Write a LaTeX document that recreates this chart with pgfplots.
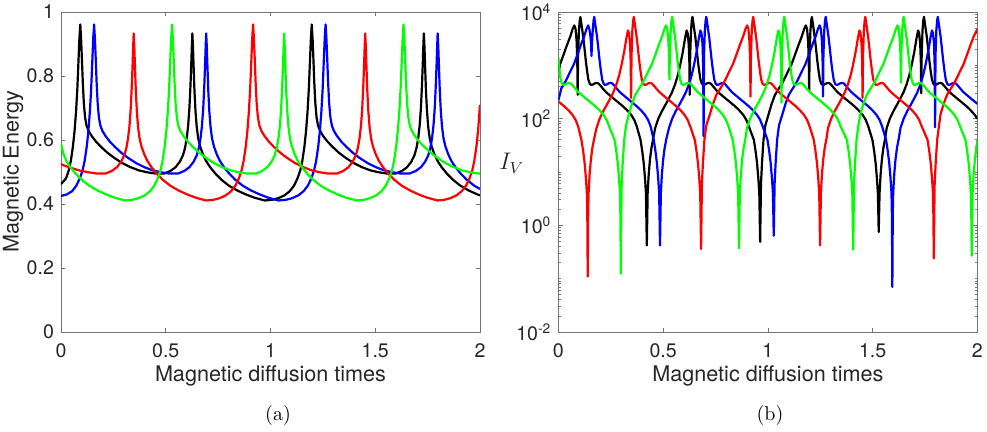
\documentclass[border=0pt]{standalone}
\usepackage{fontspec}
\usepackage{pgfplots}
\pgfplotsset{compat=1.18}
\newfontfamily\hv{TeX Gyre Heros}

\pgfplotsset{
  mlab/.style={
    scale only axis, width=209.5pt, height=160pt,
    xmin=0, xmax=2, xtick={0,0.5,1,1.5,2},
    tick align=inside, major tick length=2.2pt, minor tick length=1.2pt,
    axis line style={black!55},
    every tick/.style={black!55, line width=0.4pt},
    /pgf/number format/assume math mode=true,
    tick label style={font=\hv\fontsize{9.8}{11}\selectfont, text=black!85},
    xticklabel style={yshift=-2.2pt},
    label style={font=\hv\fontsize{10.8}{13}\selectfont, text=black!85},
    xlabel={Magnetic diffusion times},
    xlabel style={at={(axis description cs:0.5,-0.1375)}, anchor=center},
    every axis plot/.append style={line width=1.1pt, line join=round},
  }
}

\begin{document}
\begin{tikzpicture}
\useasboundingbox (0,0) rectangle (493.5pt,216pt);

% (a) magnetic energy
\begin{axis}[mlab, at={(30.5pt,50pt)}, anchor=south west,
  ymin=0, ymax=1, ytick={0,0.2,0.4,0.6,0.8,1},
  ylabel={Magnetic Energy},
  ylabel style={at={(axis description cs:-0.1146,0.501)}, anchor=center, rotate=0}]
\addplot[black] coordinates {(0,0.462) (0.024,0.480) (0.037,0.505) (0.047,0.535) (0.057,0.580) (0.065,0.630) (0.072,0.690) (0.078,0.760) (0.083,0.840) (0.088,0.920) (0.092,0.961) (0.096,0.915) (0.100,0.850) (0.104,0.780) (0.109,0.715) (0.115,0.670) (0.122,0.645) (0.132,0.628) (0.147,0.612) (0.167,0.595) (0.192,0.578) (0.222,0.560) (0.252,0.545) (0.292,0.528) (0.332,0.515) (0.372,0.505) (0.412,0.499) (0.452,0.495) (0.492,0.495) (0.522,0.503) (0.547,0.515) (0.567,0.532) (0.582,0.552) (0.592,0.575) (0.600,0.605) (0.607,0.645) (0.613,0.700) (0.618,0.770) (0.622,0.840) (0.625,0.900) (0.627,0.933) (0.630,0.890) (0.633,0.830) (0.637,0.755) (0.642,0.690) (0.648,0.640) (0.655,0.605) (0.664,0.580) (0.677,0.556) (0.692,0.535) (0.712,0.515) (0.737,0.495) (0.767,0.475) (0.802,0.457) (0.842,0.442) (0.882,0.430) (0.922,0.420) (0.972,0.411) (1.007,0.413) (1.037,0.418) (1.067,0.427) (1.092,0.440) (1.112,0.457) (1.129,0.480) (1.142,0.505) (1.152,0.535) (1.162,0.580) (1.170,0.630) (1.177,0.690) (1.183,0.760) (1.188,0.840) (1.193,0.920) (1.197,0.961) (1.201,0.915) (1.205,0.850) (1.209,0.780) (1.214,0.715) (1.220,0.670) (1.227,0.645) (1.237,0.628) (1.252,0.612) (1.272,0.595) (1.297,0.578) (1.327,0.560) (1.357,0.545) (1.397,0.528) (1.437,0.515) (1.477,0.505) (1.517,0.499) (1.557,0.495) (1.597,0.495) (1.627,0.503) (1.652,0.515) (1.672,0.532) (1.687,0.552) (1.697,0.575) (1.705,0.605) (1.712,0.645) (1.718,0.700) (1.723,0.770) (1.727,0.840) (1.730,0.900) (1.732,0.933) (1.735,0.890) (1.738,0.830) (1.742,0.755) (1.747,0.690) (1.753,0.640) (1.760,0.605) (1.769,0.580) (1.782,0.556) (1.797,0.535) (1.817,0.515) (1.842,0.495) (1.872,0.475) (1.907,0.457) (1.947,0.442) (1.987,0.430) (2.0,0.427)};
\addplot[blue] coordinates {(0,0.425) (0.028,0.430) (0.053,0.440) (0.073,0.457) (0.090,0.480) (0.103,0.505) (0.113,0.535) (0.123,0.580) (0.131,0.630) (0.138,0.690) (0.144,0.760) (0.149,0.840) (0.154,0.920) (0.158,0.961) (0.162,0.915) (0.166,0.850) (0.170,0.780) (0.175,0.715) (0.181,0.670) (0.188,0.645) (0.198,0.628) (0.213,0.612) (0.233,0.595) (0.258,0.578) (0.288,0.560) (0.318,0.545) (0.358,0.528) (0.398,0.515) (0.438,0.505) (0.478,0.499) (0.518,0.495) (0.558,0.495) (0.588,0.503) (0.613,0.515) (0.633,0.532) (0.648,0.552) (0.658,0.575) (0.666,0.605) (0.673,0.645) (0.679,0.700) (0.684,0.770) (0.688,0.840) (0.691,0.900) (0.693,0.933) (0.696,0.890) (0.699,0.830) (0.703,0.755) (0.708,0.690) (0.714,0.640) (0.721,0.605) (0.730,0.580) (0.743,0.556) (0.758,0.535) (0.778,0.515) (0.803,0.495) (0.833,0.475) (0.868,0.457) (0.908,0.442) (0.948,0.430) (0.988,0.420) (1.038,0.411) (1.073,0.413) (1.103,0.418) (1.133,0.427) (1.158,0.440) (1.178,0.457) (1.195,0.480) (1.208,0.505) (1.218,0.535) (1.228,0.580) (1.236,0.630) (1.243,0.690) (1.249,0.760) (1.254,0.840) (1.259,0.920) (1.263,0.961) (1.267,0.915) (1.271,0.850) (1.275,0.780) (1.280,0.715) (1.286,0.670) (1.293,0.645) (1.303,0.628) (1.318,0.612) (1.338,0.595) (1.363,0.578) (1.393,0.560) (1.423,0.545) (1.463,0.528) (1.503,0.515) (1.543,0.505) (1.583,0.499) (1.623,0.495) (1.663,0.495) (1.693,0.503) (1.718,0.515) (1.738,0.532) (1.753,0.552) (1.763,0.575) (1.771,0.605) (1.778,0.645) (1.784,0.700) (1.789,0.770) (1.793,0.840) (1.796,0.900) (1.798,0.933) (1.801,0.890) (1.804,0.830) (1.808,0.755) (1.813,0.690) (1.819,0.640) (1.826,0.605) (1.835,0.580) (1.848,0.556) (1.863,0.535) (1.883,0.515) (1.908,0.495) (1.938,0.475) (1.973,0.457) (2.0,0.447)};
\addplot[red] coordinates {(0,0.525) (0.012,0.521) (0.052,0.512) (0.092,0.504) (0.132,0.499) (0.172,0.495) (0.212,0.495) (0.242,0.503) (0.267,0.515) (0.287,0.532) (0.302,0.552) (0.312,0.575) (0.320,0.605) (0.327,0.645) (0.333,0.700) (0.338,0.770) (0.342,0.840) (0.345,0.900) (0.347,0.933) (0.350,0.890) (0.353,0.830) (0.357,0.755) (0.362,0.690) (0.368,0.640) (0.375,0.605) (0.384,0.580) (0.397,0.556) (0.412,0.535) (0.432,0.515) (0.457,0.495) (0.487,0.475) (0.522,0.457) (0.562,0.442) (0.602,0.430) (0.642,0.420) (0.692,0.411) (0.727,0.413) (0.757,0.418) (0.787,0.427) (0.812,0.440) (0.832,0.457) (0.849,0.480) (0.862,0.505) (0.872,0.535) (0.882,0.580) (0.890,0.630) (0.897,0.690) (0.903,0.760) (0.908,0.840) (0.913,0.920) (0.917,0.961) (0.921,0.915) (0.925,0.850) (0.929,0.780) (0.934,0.715) (0.940,0.670) (0.947,0.645) (0.957,0.628) (0.972,0.612) (0.992,0.595) (1.017,0.578) (1.047,0.560) (1.077,0.545) (1.117,0.528) (1.157,0.515) (1.197,0.505) (1.237,0.499) (1.277,0.495) (1.317,0.495) (1.347,0.503) (1.372,0.515) (1.392,0.532) (1.407,0.552) (1.417,0.575) (1.425,0.605) (1.432,0.645) (1.438,0.700) (1.443,0.770) (1.447,0.840) (1.450,0.900) (1.452,0.933) (1.455,0.890) (1.458,0.830) (1.462,0.755) (1.467,0.690) (1.473,0.640) (1.480,0.605) (1.489,0.580) (1.502,0.556) (1.517,0.535) (1.537,0.515) (1.562,0.495) (1.592,0.475) (1.627,0.457) (1.667,0.442) (1.707,0.430) (1.747,0.420) (1.797,0.411) (1.828,0.413) (1.858,0.418) (1.888,0.427) (1.913,0.440) (1.933,0.457) (1.950,0.480) (1.963,0.505) (1.973,0.535) (1.983,0.580) (1.991,0.630) (2.0,0.710)};
\addplot[green] coordinates {(0,0.590) (0.010,0.560) (0.025,0.535) (0.045,0.515) (0.070,0.495) (0.100,0.475) (0.135,0.457) (0.175,0.442) (0.215,0.430) (0.255,0.420) (0.305,0.411) (0.340,0.413) (0.370,0.418) (0.400,0.427) (0.425,0.440) (0.445,0.457) (0.462,0.480) (0.475,0.505) (0.485,0.535) (0.495,0.580) (0.503,0.630) (0.510,0.690) (0.516,0.760) (0.521,0.840) (0.526,0.920) (0.530,0.961) (0.534,0.915) (0.538,0.850) (0.542,0.780) (0.547,0.715) (0.553,0.670) (0.560,0.645) (0.570,0.628) (0.585,0.612) (0.605,0.595) (0.630,0.578) (0.660,0.560) (0.690,0.545) (0.730,0.528) (0.770,0.515) (0.810,0.505) (0.850,0.499) (0.890,0.495) (0.930,0.495) (0.960,0.503) (0.985,0.515) (1.005,0.532) (1.020,0.552) (1.030,0.575) (1.038,0.605) (1.045,0.645) (1.051,0.700) (1.056,0.770) (1.060,0.840) (1.063,0.900) (1.065,0.933) (1.068,0.890) (1.071,0.830) (1.075,0.755) (1.080,0.690) (1.086,0.640) (1.093,0.605) (1.102,0.580) (1.115,0.556) (1.130,0.535) (1.150,0.515) (1.175,0.495) (1.205,0.475) (1.240,0.457) (1.280,0.442) (1.320,0.430) (1.360,0.420) (1.410,0.411) (1.445,0.413) (1.475,0.418) (1.505,0.427) (1.530,0.440) (1.550,0.457) (1.567,0.480) (1.580,0.505) (1.590,0.535) (1.600,0.580) (1.608,0.630) (1.615,0.690) (1.621,0.760) (1.626,0.840) (1.631,0.920) (1.635,0.961) (1.639,0.915) (1.643,0.850) (1.647,0.780) (1.652,0.715) (1.658,0.670) (1.665,0.645) (1.675,0.628) (1.690,0.612) (1.710,0.595) (1.735,0.578) (1.765,0.560) (1.795,0.545) (1.835,0.528) (1.875,0.515) (1.915,0.505) (1.955,0.499) (1.995,0.495) (2.0,0.495)};
\end{axis}

% (b) I_V, log scale
\begin{axis}[mlab, at={(279.2pt,50pt)}, anchor=south west,
  ymode=log, ymin=0.01, ymax=10000,
  ytick={0.01,1,100,10000},
  yticklabels={10\textsuperscript{-2},10\textsuperscript{0},10\textsuperscript{2},10\textsuperscript{4}},
  minor ytick={0.02,0.03,0.04,0.05,0.06,0.07,0.08,0.09,0.1,0.2,0.3,0.4,0.5,0.6,0.7,0.8,0.9,2,3,4,5,6,7,8,9,10,20,30,40,50,60,70,80,90,200,300,400,500,600,700,800,900,1000,2000,3000,4000,5000,6000,7000,8000,9000},
  ylabel={$I_V$},
  ylabel style={font=\fontsize{12}{14}\selectfont, at={(axis description cs:-0.111,0.527)}, anchor=center, rotate=-90}]
\addplot[black] coordinates {(0,750) (0.008,1050) (0.025,1600) (0.041,2400) (0.057,3500) (0.068,4800) (0.076,5600) (0.082,4800) (0.087,2800) (0.090,1300) (0.092,280) (0.094,1500) (0.098,4500) (0.102,7000) (0.105,8100) (0.112,5200) (0.119,3300) (0.125,2000) (0.131,1200) (0.137,780) (0.143,540) (0.150,450) (0.156,430) (0.164,435) (0.172,455) (0.183,470) (0.192,455) (0.202,410) (0.214,360) (0.227,315) (0.247,270) (0.267,232) (0.287,200) (0.307,172) (0.327,145) (0.347,118) (0.362,95) (0.374,72) (0.392,40) (0.400,25) (0.407,15) (0.413,8) (0.418,4) (0.422,0.42) (0.426,4) (0.431,9) (0.437,17) (0.444,28) (0.453,43) (0.462,67) (0.477,100) (0.494,138) (0.512,185) (0.525,230) (0.542,310) (0.557,440) (0.570,650) (0.581,1000) (0.594,1800) (0.605,3300) (0.612,4500) (0.617,4000) (0.622,2500) (0.625,1200) (0.627,280) (0.629,1500) (0.633,4500) (0.637,7000) (0.640,8100) (0.647,5200) (0.654,3300) (0.660,2000) (0.666,1200) (0.672,780) (0.678,540) (0.685,450) (0.691,430) (0.699,435) (0.707,455) (0.718,470) (0.727,455) (0.737,410) (0.749,360) (0.762,315) (0.782,270) (0.802,232) (0.822,200) (0.842,172) (0.862,145) (0.882,118) (0.897,95) (0.909,72) (0.933,40) (0.941,25) (0.948,15) (0.954,8) (0.959,4) (0.963,0.49) (0.967,6) (0.972,15) (0.979,40) (0.988,75) (1.003,120) (1.018,190) (1.034,280) (1.053,370) (1.068,460) (1.082,590) (1.098,800) (1.113,1050) (1.130,1600) (1.146,2400) (1.162,3500) (1.173,4800) (1.181,5600) (1.187,4800) (1.192,2800) (1.195,1300) (1.197,330) (1.199,1500) (1.203,4500) (1.207,7000) (1.210,8100) (1.217,5200) (1.224,3300) (1.230,2000) (1.236,1200) (1.242,780) (1.248,540) (1.255,450) (1.261,430) (1.269,435) (1.277,455) (1.288,470) (1.297,455) (1.307,410) (1.319,360) (1.332,315) (1.352,270) (1.372,232) (1.392,200) (1.412,172) (1.432,145) (1.452,118) (1.467,95) (1.479,72) (1.499,40) (1.507,25) (1.514,15) (1.520,8) (1.525,4) (1.529,0.75) (1.533,4) (1.538,9) (1.544,17) (1.551,28) (1.560,43) (1.567,67) (1.582,100) (1.599,138) (1.617,185) (1.630,230) (1.647,310) (1.662,440) (1.675,650) (1.686,1000) (1.699,1800) (1.710,3300) (1.717,4500) (1.722,4000) (1.727,2500) (1.730,1200) (1.732,300) (1.734,1500) (1.738,4500) (1.742,7000) (1.745,8100) (1.752,5200) (1.759,3300) (1.765,2000) (1.771,1200) (1.777,780) (1.783,540) (1.790,450) (1.796,430) (1.804,435) (1.812,455) (1.823,470) (1.832,455) (1.842,410) (1.854,360) (1.867,315) (1.887,270) (1.907,232) (1.927,200) (1.947,172) (1.967,145) (1.987,118) (2.0,100)};
\addplot[blue] coordinates {(0,220) (0.014,370) (0.029,460) (0.043,590) (0.059,800) (0.074,1050) (0.091,1600) (0.107,2400) (0.123,3500) (0.134,4800) (0.142,5600) (0.148,4800) (0.153,3500) (0.156,2500) (0.158,1500) (0.160,2500) (0.164,4500) (0.168,7000) (0.171,8100) (0.178,5200) (0.185,3300) (0.191,2000) (0.197,1200) (0.203,780) (0.209,540) (0.216,450) (0.222,430) (0.230,435) (0.238,455) (0.249,470) (0.258,455) (0.268,410) (0.280,360) (0.293,315) (0.313,270) (0.333,232) (0.353,200) (0.373,172) (0.393,145) (0.413,118) (0.428,95) (0.440,72) (0.455,40) (0.463,25) (0.470,15) (0.476,8) (0.481,4) (0.485,0.42) (0.489,4) (0.494,9) (0.500,17) (0.507,28) (0.516,43) (0.528,67) (0.543,100) (0.560,138) (0.578,185) (0.591,230) (0.608,310) (0.623,440) (0.636,650) (0.647,1000) (0.660,1800) (0.671,3300) (0.678,4500) (0.683,4000) (0.688,2500) (0.691,1000) (0.693,47) (0.695,1500) (0.699,4500) (0.703,7000) (0.706,8100) (0.713,5200) (0.720,3300) (0.726,2000) (0.732,1200) (0.738,780) (0.744,540) (0.751,450) (0.757,430) (0.765,435) (0.773,455) (0.784,470) (0.793,455) (0.803,410) (0.815,360) (0.828,315) (0.848,270) (0.868,232) (0.888,200) (0.908,172) (0.928,145) (0.948,118) (0.963,95) (0.975,72) (0.998,40) (1.006,25) (1.013,15) (1.019,8) (1.024,4) (1.028,0.64) (1.032,6) (1.037,15) (1.044,40) (1.053,75) (1.069,120) (1.084,190) (1.100,280) (1.119,370) (1.134,460) (1.148,590) (1.164,800) (1.179,1050) (1.196,1600) (1.212,2400) (1.228,3500) (1.239,4800) (1.247,5600) (1.253,4800) (1.258,2800) (1.261,1300) (1.263,260) (1.265,1500) (1.269,4500) (1.273,7000) (1.276,8100) (1.283,5200) (1.290,3300) (1.296,2000) (1.302,1200) (1.308,780) (1.314,540) (1.321,450) (1.327,430) (1.335,435) (1.343,455) (1.354,470) (1.363,455) (1.373,410) (1.385,360) (1.398,315) (1.418,270) (1.438,232) (1.458,200) (1.478,172) (1.498,145) (1.518,118) (1.533,95) (1.545,72) (1.564,40) (1.572,25) (1.579,15) (1.585,8) (1.590,4) (1.592,1.5) (1.594,0.07) (1.596,1.5) (1.598,4) (1.603,9) (1.609,17) (1.616,28) (1.625,43) (1.633,67) (1.648,100) (1.665,138) (1.683,185) (1.696,230) (1.713,310) (1.728,440) (1.741,650) (1.752,1000) (1.765,1800) (1.776,3300) (1.783,4500) (1.788,4000) (1.793,2500) (1.796,1000) (1.798,69) (1.800,1500) (1.804,4500) (1.808,7000) (1.811,8100) (1.818,5200) (1.825,3300) (1.831,2000) (1.837,1200) (1.843,780) (1.849,540) (1.856,450) (1.862,430) (1.870,435) (1.878,455) (1.889,470) (1.898,455) (1.908,410) (1.920,360) (1.933,315) (1.953,270) (1.973,232) (1.993,200) (2.0,190)};
\addplot[red] coordinates {(0,205) (0.007,200) (0.027,172) (0.047,145) (0.067,118) (0.082,95) (0.094,72) (0.110,40) (0.118,25) (0.125,15) (0.131,8) (0.136,4) (0.138,1.5) (0.140,0.11) (0.142,1.5) (0.144,4) (0.149,9) (0.155,17) (0.162,28) (0.171,43) (0.182,67) (0.197,100) (0.214,138) (0.232,185) (0.245,230) (0.262,310) (0.277,440) (0.290,650) (0.301,1000) (0.314,1800) (0.325,3300) (0.332,4500) (0.337,4000) (0.342,2500) (0.345,1200) (0.347,245) (0.349,1500) (0.353,4500) (0.357,7000) (0.360,8100) (0.367,5200) (0.374,3300) (0.380,2000) (0.386,1200) (0.392,780) (0.398,540) (0.405,450) (0.411,430) (0.419,435) (0.427,455) (0.438,470) (0.447,455) (0.457,410) (0.469,360) (0.482,315) (0.502,270) (0.522,232) (0.542,200) (0.562,172) (0.582,145) (0.602,118) (0.617,95) (0.629,72) (0.651,40) (0.659,25) (0.666,15) (0.672,8) (0.677,4) (0.681,0.36) (0.685,6) (0.690,15) (0.697,40) (0.706,75) (0.723,120) (0.738,190) (0.754,280) (0.773,370) (0.788,460) (0.802,590) (0.818,800) (0.833,1050) (0.850,1600) (0.866,2400) (0.882,3500) (0.893,4800) (0.901,5600) (0.907,4800) (0.912,2800) (0.915,1300) (0.917,260) (0.919,1500) (0.923,4500) (0.927,7000) (0.930,8100) (0.937,5200) (0.944,3300) (0.950,2000) (0.956,1200) (0.962,780) (0.968,540) (0.975,450) (0.981,430) (0.989,435) (0.997,455) (1.008,470) (1.017,455) (1.027,410) (1.039,360) (1.052,315) (1.072,270) (1.092,232) (1.112,200) (1.132,172) (1.152,145) (1.172,118) (1.187,95) (1.199,72) (1.219,40) (1.227,25) (1.234,15) (1.240,8) (1.245,4) (1.249,0.42) (1.253,4) (1.258,9) (1.264,17) (1.271,28) (1.280,43) (1.287,67) (1.302,100) (1.319,138) (1.337,185) (1.350,230) (1.367,310) (1.382,440) (1.395,650) (1.406,1000) (1.419,1800) (1.430,3300) (1.437,4500) (1.442,4000) (1.447,2500) (1.450,1200) (1.452,245) (1.454,1500) (1.458,4500) (1.462,7000) (1.465,8100) (1.472,5200) (1.479,3300) (1.485,2000) (1.491,1200) (1.497,780) (1.503,540) (1.510,450) (1.516,430) (1.524,435) (1.532,455) (1.543,470) (1.552,455) (1.562,410) (1.574,360) (1.587,315) (1.607,270) (1.627,232) (1.647,200) (1.667,172) (1.687,145) (1.707,118) (1.722,95) (1.734,72) (1.762,40) (1.770,25) (1.777,15) (1.783,8) (1.788,4) (1.790,1.5) (1.792,0.24) (1.794,1.5) (1.796,6) (1.801,15) (1.808,40) (1.817,75) (1.824,120) (1.839,190) (1.855,280) (1.874,370) (1.889,460) (1.903,590) (1.919,800) (1.934,1050) (1.951,1600) (1.967,2400) (1.983,3500) (1.994,4300) (2.0,4700)};
\addplot[green] coordinates {(0,1400) (0.005,780) (0.011,540) (0.018,450) (0.024,430) (0.032,435) (0.040,455) (0.051,470) (0.060,455) (0.070,410) (0.082,360) (0.095,315) (0.115,270) (0.135,232) (0.155,200) (0.175,172) (0.195,145) (0.215,118) (0.230,95) (0.242,72) (0.268,40) (0.276,25) (0.283,15) (0.289,8) (0.294,4) (0.296,1.5) (0.298,0.124) (0.300,1.5) (0.302,6) (0.307,15) (0.314,40) (0.323,75) (0.336,120) (0.351,190) (0.367,280) (0.386,370) (0.401,460) (0.415,590) (0.431,800) (0.446,1050) (0.463,1600) (0.479,2400) (0.495,3500) (0.506,4800) (0.514,5600) (0.520,4800) (0.525,2800) (0.528,1500) (0.530,540) (0.532,1800) (0.536,4500) (0.540,7000) (0.543,8100) (0.550,5200) (0.557,3300) (0.563,2000) (0.569,1200) (0.575,780) (0.581,540) (0.588,450) (0.594,430) (0.602,435) (0.610,455) (0.621,470) (0.630,455) (0.640,410) (0.652,360) (0.665,315) (0.685,270) (0.705,232) (0.725,200) (0.745,172) (0.765,145) (0.785,118) (0.800,95) (0.812,72) (0.832,40) (0.840,25) (0.847,15) (0.853,8) (0.858,4) (0.862,0.37) (0.866,4) (0.871,9) (0.877,17) (0.884,28) (0.893,43) (0.900,67) (0.915,100) (0.932,138) (0.950,185) (0.963,230) (0.980,310) (0.995,440) (1.008,650) (1.019,1000) (1.032,1800) (1.043,3300) (1.050,4500) (1.055,4000) (1.060,2500) (1.063,1000) (1.065,200) (1.067,1500) (1.071,4500) (1.075,7000) (1.078,8100) (1.085,5200) (1.092,3300) (1.098,2000) (1.104,1200) (1.110,780) (1.116,540) (1.123,450) (1.129,430) (1.137,435) (1.145,455) (1.156,470) (1.165,455) (1.175,410) (1.187,360) (1.200,315) (1.220,270) (1.240,232) (1.260,200) (1.280,172) (1.300,145) (1.320,118) (1.335,95) (1.347,72) (1.377,40) (1.385,25) (1.392,15) (1.398,8) (1.403,4) (1.407,0.35) (1.411,6) (1.416,15) (1.423,40) (1.432,75) (1.441,120) (1.456,190) (1.472,280) (1.491,370) (1.506,460) (1.520,590) (1.536,800) (1.551,1050) (1.568,1600) (1.584,2400) (1.600,3500) (1.611,4800) (1.619,5600) (1.625,4800) (1.630,2800) (1.633,1500) (1.635,470) (1.637,1800) (1.641,4500) (1.645,7000) (1.648,8100) (1.655,5200) (1.662,3300) (1.668,2000) (1.674,1200) (1.680,780) (1.686,540) (1.693,450) (1.699,430) (1.707,435) (1.715,455) (1.726,470) (1.735,455) (1.745,410) (1.757,360) (1.770,315) (1.790,270) (1.810,232) (1.830,200) (1.850,172) (1.870,145) (1.890,118) (1.905,95) (1.917,72) (1.943,40) (1.951,25) (1.958,15) (1.964,8) (1.969,4) (1.971,1.5) (1.973,0.27) (1.975,1.5) (1.977,4) (1.982,9) (1.988,17) (1.995,28) (2.0,40)};
\end{axis}

\node[font=\fontsize{10}{12}\selectfont] at (139pt,8.3pt) {(a)};
\node[font=\fontsize{10}{12}\selectfont] at (385pt,8.3pt) {(b)};
\end{tikzpicture}
\end{document}
